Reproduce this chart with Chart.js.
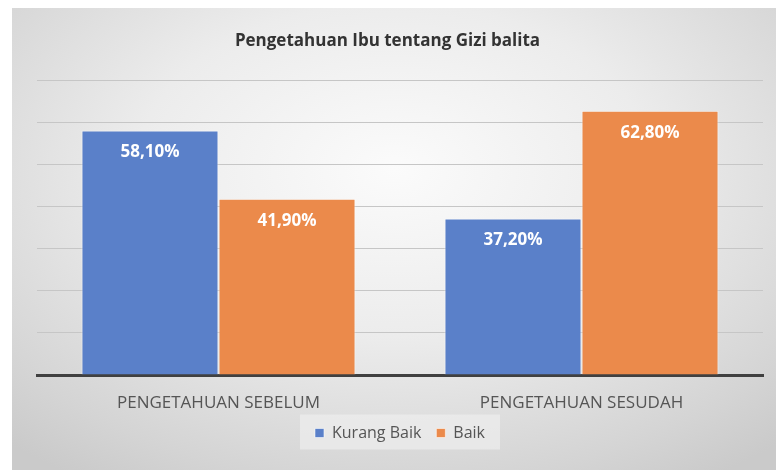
<!DOCTYPE html>
<html>
<head>
<meta charset="utf-8">
<script src="https://cdn.jsdelivr.net/npm/chart.js@4/dist/chart.umd.min.js"></script>
<style>
    html, body { margin: 0; padding: 0; background: #fff; }
    .wrap {
        position: absolute;
        left: 12px;
        top: 8px;
        width: 764px;
        height: 462px;
        background: radial-gradient(ellipse 75% 80% at 50% 35%, #fbfbfb 0%, #ececec 45%, #d4d4d4 85%, #cacaca 100%);
    }
</style>
</head>
<body>
<div class="wrap">
    <canvas id="gizi_chart" width="764" height="462"></canvas>
</div>
<script>
const categories = ['PENGETAHUAN SEBELUM', 'PENGETAHUAN SESUDAH']
const seriesNames = ['Kurang Baik', 'Baik']
const kurangBaik = [58.1, 37.2]
const baik = [41.9, 62.8]
const seriesColors = ['#5a80c9', '#eb8a4b']

const fontFamily = "'Open Sans', 'Noto Sans', sans-serif"

// value labels inside the top of each bar
const barLabels = {
    id: 'barLabels',
    afterDatasetsDraw(chart) {
        const ctx = chart.ctx
        ctx.save()
        ctx.fillStyle = '#ffffff'
        ctx.font = `bold 17px ${fontFamily}`
        ctx.textAlign = 'center'
        ctx.textBaseline = 'middle'
        chart.data.datasets.forEach((ds, i) => {
            chart.getDatasetMeta(i).data.forEach((bar, j) => {
                const text = ds.data[j].toFixed(2).replace('.', ',') + '%'
                ctx.fillText(text, bar.x, bar.y + 22)
            })
        })
        ctx.restore()
    }
}

// light backdrop behind the legend
const legendBackdrop = {
    id: 'legendBackdrop',
    beforeDraw(chart) {
        const lg = chart.legend
        if (!lg) return
        const ctx = chart.ctx
        const cy = lg.top + lg.height / 2
        ctx.save()
        ctx.fillStyle = 'rgba(238,238,238,0.7)'
        ctx.fillRect(lg.left + (lg.width - 200) / 2, cy - 16, 200, 35)
        ctx.restore()
    }
}

const data = {
    labels: categories,
    datasets: [
        {
            label: seriesNames[0],
            data: kurangBaik,
            backgroundColor: seriesColors[0],
            borderColor: 'rgba(255,255,255,0.55)',
            borderWidth: 1,
        },
        {
            label: seriesNames[1],
            data: baik,
            backgroundColor: seriesColors[1],
            borderColor: 'rgba(255,255,255,0.55)',
            borderWidth: 1,
        }
    ]
}

const config = {
    type: 'bar',
    data: data,
    plugins: [legendBackdrop, barLabels],
    options: {
        responsive: false,
        animation: false,
        layout: {
            padding: { left: 0, right: 13, top: 0, bottom: 19 }
        },
        datasets: {
            bar: {
                categoryPercentage: 0.755,
                barPercentage: 1.0,
            }
        },
        scales: {
            x: {
                grid: { display: false },
                border: { display: true, color: '#404040', width: 3 },
                ticks: {
                    color: '#555555',
                    font: { family: fontFamily, size: 17 },
                    padding: 10,
                },
                afterFit: (scale) => { scale.height = 35 }
            },
            y: {
                min: 0,
                max: 70,
                ticks: { display: false, stepSize: 10 },
                grid: { color: '#c6c6c6', lineWidth: 1, drawTicks: false },
                border: { display: false },
                afterFit: (scale) => { scale.width = 25 }
            }
        },
        plugins: {
            title: {
                display: true,
                text: 'Pengetahuan Ibu tentang Gizi balita',
                color: '#333333',
                font: { family: fontFamily, size: 17, weight: 'bold' },
                padding: { top: 23, bottom: 29 },
            },
            legend: {
                position: 'bottom',
                fullSize: false,
                labels: {
                    color: '#555555',
                    font: { family: fontFamily, size: 16 },
                    boxWidth: 9,
                    boxHeight: 9,
                    padding: 15,
                }
            },
            tooltip: { enabled: false }
        }
    }
}

const ctx = document.getElementById('gizi_chart').getContext('2d')
const giziChart = new Chart(ctx, config)
</script>
</body>
</html>
